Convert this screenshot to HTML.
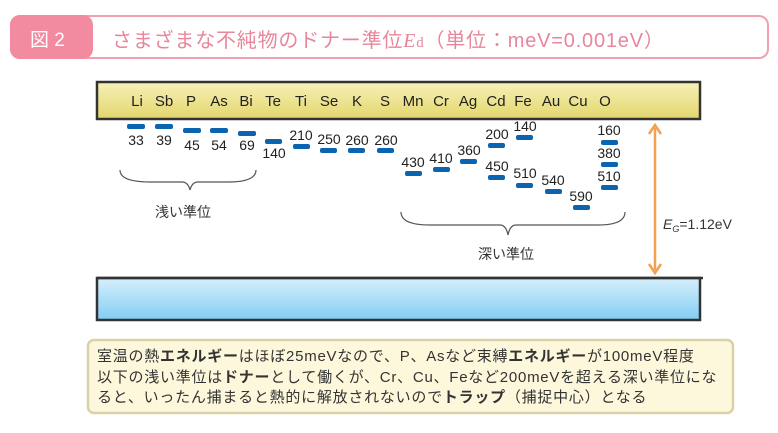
<!DOCTYPE html>
<html><head><meta charset="utf-8"><style>
body{margin:0;width:778px;height:433px;background:#fff;position:relative;overflow:hidden;font-family:"Liberation Sans","Noto Sans CJK JP",sans-serif;color:#333}
.a{position:absolute;white-space:nowrap}
</style></head><body>
<div class="a" style="left:10px;top:15px;width:755px;height:40px;border:2px solid #f1a0b0;border-radius:10px;background:#fff"></div>
<div class="a" style="left:10px;top:15px;width:83px;height:44px;background:#f28ba0;border-radius:10px"></div>
<div class="a" style="left:30px;top:25px;font-size:19px;color:#fff">図 2</div>
<div class="a" style="left:112px;top:24px;font-size:20px;color:#e8869b;letter-spacing:0.8px">さまざまな不純物のドナー準位<i style="font-family:'Liberation Serif',serif">E</i><span style="font-family:'Liberation Serif',serif;font-size:15px">d</span>（単位：meV=0.001eV）</div>
<svg class="a" style="left:0;top:0" width="778" height="433">
<defs>
<linearGradient id="y" x1="0" y1="0" x2="0" y2="1"><stop offset="0" stop-color="#f6f1b8"/><stop offset="1" stop-color="#e3d66c"/></linearGradient>
<linearGradient id="b" x1="0" y1="0" x2="0" y2="1"><stop offset="0" stop-color="#d6effc"/><stop offset="1" stop-color="#82cdf2"/></linearGradient>
</defs>
<rect x="97" y="82" width="603" height="37" fill="url(#y)" stroke="#333" stroke-width="2.5"/>
<rect x="97" y="278" width="603" height="42" fill="url(#b)" stroke="#333" stroke-width="2.5"/>
<line x1="97" y1="278" x2="703" y2="278" stroke="#333" stroke-width="2.5"/>
<g fill="#0a64b0">
<rect x="127" y="124" width="18" height="5" rx="2"/><rect x="155" y="124" width="18" height="5" rx="2"/>
<rect x="183" y="128" width="18" height="5" rx="2"/><rect x="210" y="128" width="18" height="5" rx="2"/>
<rect x="238" y="131" width="18" height="5" rx="2"/><rect x="265" y="139" width="17" height="5" rx="2"/>
<rect x="293" y="144" width="17" height="5" rx="2"/><rect x="320" y="148" width="17" height="5" rx="2"/>
<rect x="348" y="148" width="17" height="5" rx="2"/><rect x="377" y="148" width="17" height="5" rx="2"/>
<rect x="405" y="171" width="17" height="5" rx="2"/><rect x="433" y="167" width="17" height="5" rx="2"/>
<rect x="460" y="159" width="17" height="5" rx="2"/><rect x="488" y="143" width="17" height="5" rx="2"/>
<rect x="488" y="175" width="17" height="5" rx="2"/><rect x="516" y="135" width="17" height="5" rx="2"/>
<rect x="516" y="183" width="17" height="5" rx="2"/><rect x="545" y="189" width="17" height="5" rx="2"/>
<rect x="573" y="205" width="17" height="5" rx="2"/><rect x="601" y="140" width="17" height="5" rx="2"/>
<rect x="601" y="162" width="17" height="5" rx="2"/><rect x="601" y="185" width="17" height="5" rx="2"/>
</g>
<g font-size="15" fill="#222" text-anchor="middle" font-family="Liberation Sans,sans-serif">
<text x="137" y="106">Li</text><text x="164" y="106">Sb</text><text x="191" y="106">P</text><text x="219" y="106">As</text><text x="246" y="106">Bi</text><text x="273" y="106">Te</text><text x="301" y="106">Ti</text><text x="329" y="106">Se</text><text x="357" y="106">K</text><text x="385" y="106">S</text><text x="413" y="106">Mn</text><text x="441" y="106">Cr</text><text x="468" y="106">Ag</text><text x="496" y="106">Cd</text><text x="523" y="106">Fe</text><text x="551" y="106">Au</text><text x="578" y="106">Cu</text><text x="605" y="106">O</text>
</g>
<g font-size="14" fill="#222" text-anchor="middle" font-family="Liberation Sans,sans-serif">
<text x="136" y="145">33</text><text x="164" y="145">39</text><text x="192" y="150">45</text><text x="219" y="150">54</text><text x="247" y="150">69</text><text x="274" y="158">140</text>
<text x="301" y="140">210</text><text x="329" y="144">250</text><text x="357" y="145">260</text><text x="386" y="145">260</text>
<text x="413" y="167">430</text><text x="441" y="163">410</text><text x="469" y="155">360</text><text x="497" y="139">200</text><text x="497" y="171">450</text>
<text x="525" y="131">140</text><text x="525" y="178">510</text><text x="553" y="185">540</text><text x="581" y="201">590</text>
<text x="609" y="135">160</text><text x="609" y="158">380</text><text x="609" y="181">510</text>
</g>
<path d="M120 170 Q120 182 150 182 L182 182 Q188 182 190 190 Q192 182 198 182 L228 182 Q256 182 256 170" fill="none" stroke="#555" stroke-width="1.2"/>
<path d="M401 212 Q401 225 430 225 L500 225 Q506 225 508 235 Q510 225 516 225 L598 225 Q625 225 625 212" fill="none" stroke="#555" stroke-width="1.2"/>
<g font-size="14" fill="#333" font-family="Liberation Sans,Noto Sans CJK JP,sans-serif">
<text x="155" y="217">浅い準位</text><text x="478" y="259">深い準位</text>
<text x="663" y="229"><tspan font-style="italic">E</tspan><tspan font-size="9" font-style="italic" dy="3">G</tspan><tspan dy="-3">=1.12eV</tspan></text>
</g>
<line x1="655" y1="128" x2="655" y2="270" stroke="#f3a050" stroke-width="2.5"/>
<path d="M649 134 L655 125 L661 134" fill="none" stroke="#f3a050" stroke-width="2.5"/>
<path d="M649 264 L655 273 L661 264" fill="none" stroke="#f3a050" stroke-width="2.5"/>
<rect x="88" y="340" width="645" height="73" rx="6" fill="#fdf8dc" stroke="#d9d1a8" stroke-width="2.5"/>
</svg>
<div class="a" style="left:97px;top:347px;font-size:15px;line-height:20.5px;letter-spacing:0.75px;color:#333">室温の熱<b>エネルギー</b>はほぼ25meVなので、P、Asなど束縛<b>エネルギー</b>が100meV程度<br>以下の浅い準位は<b>ドナー</b>として働くが、Cr、Cu、Feなど200meVを超える深い準位にな<br>ると、いったん捕まると熱的に解放されないので<b>トラップ</b>（捕捉中心）となる</div>
</body></html>
